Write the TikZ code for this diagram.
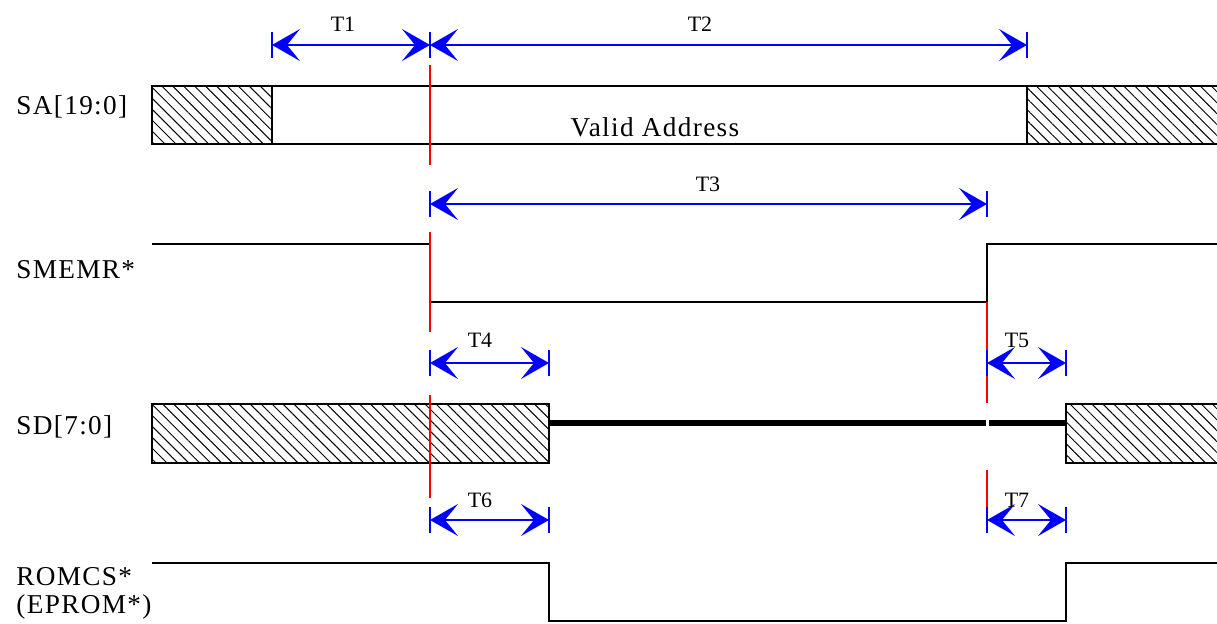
\documentclass[tikz,border=0pt]{standalone}
\usepackage{fontspec}
\setmainfont{Liberation Serif}
\usetikzlibrary{arrows.meta,patterns.meta}

\tikzset{
  sig/.style={line width=0.7pt},
  bold/.style={line width=2.9pt},
  hatch/.style={pattern={Lines[angle=-45,distance=4.4pt,line width=0.55pt]}},
  dimline/.style={blue, line width=1pt,
    {Stealth[length=5.6mm,width=6.4mm,inset=2.6mm]}-{Stealth[length=5.6mm,width=6.4mm,inset=2.6mm]}},
  dimtick/.style={blue, line width=0.8pt},
  edgemark/.style={red, line width=0.7pt},
  siglabel/.style={anchor=west, inner sep=0pt,
    font=\fontsize{15.5}{17}\selectfont\addfontfeature{LetterSpace=5}},
  dimlabel/.style={inner sep=0pt, font=\fontsize{12.5}{14}\selectfont}
}

\begin{document}
\begin{tikzpicture}[x=0.02cm, y=-0.02cm]

	\useasboundingbox (0,0) rectangle (1217,624);

	% signal names
	\node[siglabel] (lblSA) at (16,107) {SA[19:0]};
	\node[siglabel] (lblMEMR) at (16,270) {SMEMR*};
	\node[siglabel] (lblSD) at (16,427) {SD[7:0]};
	\node[siglabel] (lblROM) at (16,577) {ROMCS*};
	\node[siglabel] (lblEPROM) at (16,607) {(EPROM*)};

	% SA[19:0]
	\fill[hatch] (152,86) rectangle (272,144);
	\fill[hatch] (1027,86) rectangle (1220,144);
	\draw[sig] (152,86) rectangle (272,144);
	\draw[sig] (1220,86) -- (1027,86) -- (1027,144) -- (1220,144);
	\draw[sig] (272,86) -- (1027,86) (272,144) -- (1027,144);
	\node[siglabel, anchor=center] (valid) at (655,127) {Valid Address};

	% SMEMR*
	\draw[sig] (152,244) -- (430,244) -- (430,302) -- (987,302) -- (987,244) -- (1217,244);

	% SD[7:0]
	\fill[hatch] (152,404) rectangle (549,463);
	\fill[hatch] (1066,404) rectangle (1220,463);
	\draw[sig] (152,404) rectangle (549,463);
	\draw[sig] (1220,404) -- (1066,404) -- (1066,463) -- (1220,463);
	\draw[bold] (549,423) -- (985.5,423) (988.5,423) -- (1066,423);

	% ROMCS*
	\draw[sig] (152,563) -- (549,563) -- (549,621) -- (1066,621) -- (1066,563) -- (1217,563);

	% red edge marks
	\draw[edgemark] (430,65) -- (430,165)
	 (430,232) -- (430,332)
	 (430,395) -- (430,498);
	\draw[edgemark] (987,302) -- (987,403)
	 (987,470) -- (987,520);

	% timing points
	\coordinate (a1) at (272,45);
	\coordinate (a2) at (430,45);
	\coordinate (a3) at (1027,45);
	\coordinate (b1) at (430,204);
	\coordinate (b2) at (987,204);
	\coordinate (c1) at (430,363);
	\coordinate (c2) at (549,363);
	\coordinate (c3) at (987,363);
	\coordinate (c4) at (1066,363);
	\coordinate (d1) at (430,520);
	\coordinate (d2) at (549,520);
	\coordinate (d3) at (987,520);
	\coordinate (d4) at (1066,520);

	\foreach \p in {a1,a2,a3,b1,b2,c1,c2,c3,c4,d1,d2,d3,d4}
	\draw[dimtick] ([yshift=-0.26cm]\p) -- ([yshift=0.26cm]\p);

	\draw[dimline] (a1) -- (a2);
	\draw[dimline] (a2) -- (a3);
	\draw[dimline] (b1) -- (b2);
	\draw[dimline] (c1) -- (c2);
	\draw[dimline] (c3) -- (c4);
	\draw[dimline] (d1) -- (d2);
	\draw[dimline] (d3) -- (d4);

	\node[dimlabel] (t1) at (343,24) {T1};
	\node[dimlabel] (t2) at (700,24) {T2};
	\node[dimlabel] (t3) at (708,184) {T3};
	\node[dimlabel] (t4) at (480,340) {T4};
	\node[dimlabel] (t5) at (1017,340) {T5};
	\node[dimlabel] (t6) at (480,500) {T6};
	\node[dimlabel] (t7) at (1017,500) {T7};

\end{tikzpicture}
\end{document}
